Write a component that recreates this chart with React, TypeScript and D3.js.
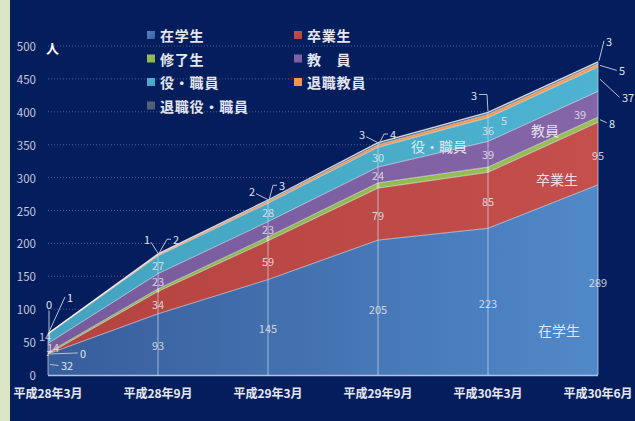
import React from 'react';
import * as d3 from 'd3';

const categories = ['平成28年3月', '平成28年9月', '平成29年3月', '平成29年9月', '平成30年3月', '平成30年6月'];
const students = [32, 93, 145, 205, 223, 289];
const graduates = [0, 34, 59, 79, 85, 95];
const completed = [2, 4, 6, 8, 8, 8];
const faculty = [14, 23, 23, 24, 39, 39];
const staff = [14, 27, 28, 30, 36, 37];
const retiredFaculty = [1, 2, 3, 4, 5, 5];
const retiredStaff = [0, 1, 2, 3, 3, 3];
const seriesNames = ['在学生', '卒業生', '修了生', '教員', '役・職員', '退職教員', '退職役・職員'];
const legendNames = ['在学生', '卒業生', '修了生', '教　員', '役・職員', '退職教員', '退職役・職員'];
const yTicks = [0, 50, 100, 150, 200, 250, 300, 350, 400, 450, 500];

const seriesValues = [students, graduates, completed, faculty, staff, retiredFaculty, retiredStaff];

const W = 635, H = 421;
const FONT = '"Noto Sans CJK JP", "Noto Sans", sans-serif';

const colorsA = ['#385d9b', '#b4433f', '#8db44c', '#785b9d', '#43a3c0', '#f0924a', '#485a70'];
const colorsB = ['#5089c9', '#c44f4c', '#97bf55', '#8466a8', '#4db3d0', '#f89c52', '#55687e'];

type Off = [number, number, string | null];
// label offsets relative to band centre: dx, dy, leader type
const labelOffsets: Off[][] = [
  [[19, 1, 'h'], [0, 1, null], [0, 1, null], [0, 1, null], [0, 1, null], [0, 2, null]],
  [[35, -1, 'h'], [0, 1, null], [0, 1, null], [0, 1, null], [0, 1, null], [0, 1, null]],
  [[0, 0, null], [0, 0, null], [0, 0, null], [0, 0, null], [0, 0, null], [14, 3, 'h']],
  [[5, -1, null], [0, 0, null], [0, 0, null], [0, 0, null], [0, 0, null], [-18, 10, null]],
  [[-3, -3, null], [0, 0, null], [0, 0, null], [0, 0, null], [0, 0, null], [30, 18, 'h']],
  [[22, -37, 'd'], [18, -16, 'e'], [14, -17, 'e'], [15, -12, 'e'], [16, 4, null], [24, 5, 'h']],
  [[1, -30, 'v'], [-11, -15, 'd'], [-16, -10, 'd'], [-16, -10, 'd'], [-14, -18, 'e2'], [11, -22, 'd']],
];

const areaLabels = [
  { text: '役・職員', cat: 3, series: 4, dx: 61, dy: -11 },
  { text: '教員', cat: 4, series: 3, dx: 57, dy: -24 },
  { text: '卒業生', cat: 4, series: 1, dx: 69, dy: -21 },
  { text: '在学生', cat: 4, series: 0, dx: 71, dy: 28 },
];

export default function App() {
  const x = d3.scalePoint<string>().domain(categories).range([48, 598]);
  const y = d3.scaleLinear().domain([0, 500]).range([375, 46]);

  const rows = categories.map((c, i) => {
    const r: any = { cat: c };
    seriesNames.forEach((s, k) => (r[s] = seriesValues[k][i]));
    return r;
  });
  const stacked = d3.stack<any>().keys(seriesNames)(rows);

  const area = d3
    .area<any>()
    .x((d) => x(d.data.cat)!)
    .y0((d) => y(d[0]))
    .y1((d) => y(d[1]));
  const topLine = d3
    .line<any>()
    .x((d) => x(d.data.cat)!)
    .y((d) => y(d[1]));

  const totals = categories.map((_, i) => seriesValues.reduce((a, s) => a + s[i], 0));

  const labels: React.ReactNode[] = [];
  stacked.forEach((layer, k) => {
    layer.forEach((d: any, i: number) => {
      const ax = x(d.data.cat)!;
      const ay = (y(d[0]) + y(d[1])) / 2;
      const [dx, dy, leader] = labelOffsets[k][i];
      const lx = ax + dx;
      const ly = ay + dy;
      const val = seriesValues[k][i];
      const txt = String(val);
      const tw = txt.length * 6.5;
      const tiny = k === 2 && !leader;
      let pts: [number, number][] | null = null;
      if (leader === 'h') pts = [[ax + 2, ay], [lx - tw / 2 - 2, ly]];
      if (leader === 'v') pts = [[lx, ly + 7], [ax + 1, ay - 2]];
      if (leader === 'd') pts = dx < 0 ? [[lx + 4, ly + 3], [ax, ay - 1]] : [[lx - 5, ly], [ax + 1, ay - 2]];
      if (leader === 'e') pts = [[lx - 5, ly], [lx - 9, ly], [ax + 1, ay - 2]];
      if (leader === 'e2') pts = [[lx + 5, ly - 1], [ax - 1, ly - 1], [ax, ay - 2]];
      labels.push(
        <g key={`l${k}-${i}`}>
          {pts && (
            <polyline
              points={pts.map((p) => p.join(',')).join(' ')}
              fill="none"
              stroke="#b9c2d6"
              strokeWidth={1}
            />
          )}
          <text
            x={lx}
            y={ly}
            textAnchor="middle"
            dominantBaseline="central"
            fontSize={tiny ? 6 : 11}
            fill={leader ? '#dfe3ee' : '#ece6ee'}
            fillOpacity={leader ? 1 : 0.85}
            fontFamily={FONT}
          >
            {txt}
          </text>
        </g>
      );
    });
  });

  return (
    <div style={{ position: 'fixed', left: 0, top: 0 }}>
      <svg width={W} height={H} style={{ display: 'block' }}>
        <defs>
          {colorsA.map((c, k) => (
            <linearGradient key={k} id={`g${k}`} x1="48" x2="598" y1="0" y2="0" gradientUnits="userSpaceOnUse">
              <stop offset="0" stopColor={c} />
              <stop offset="1" stopColor={colorsB[k]} />
            </linearGradient>
          ))}
          {colorsA.map((c, k) => (
            <linearGradient key={`s${k}`} id={`sw${k}`} x1="0" x2="1" y1="0" y2="1">
              <stop offset="0" stopColor={colorsB[k]} />
              <stop offset="1" stopColor={c} />
            </linearGradient>
          ))}
        </defs>
        <rect width={W} height={H} fill="#041d5d" />
        <rect width={10} height={H} fill="#dbe5c3" />

        {/* grid */}
        {yTicks.slice(1).map((t) => (
          <line key={t} x1={48} x2={598} y1={y(t)} y2={y(t)} stroke="#5b6c9c" strokeDasharray="1,2" strokeWidth={0.8} />
        ))}
        {yTicks.map((t) => (
          <text key={`t${t}`} x={36} y={y(t)} textAnchor="end" dominantBaseline="central" fontSize={11.5} fill="#c3cadb" fontFamily={FONT}>
            {t}
          </text>
        ))}
        <text x={46} y={y(500) + 1} dominantBaseline="central" fontSize={13} fontWeight="bold" fill="#ffffff" fontFamily={FONT}>
          人
        </text>

        {/* areas */}
        {stacked.map((layer, k) => (
          <path key={`a${k}`} d={area(layer as any)!} fill={`url(#g${k})`} />
        ))}
        {stacked.map((layer, k) => (
          <path key={`b${k}`} d={topLine(layer as any)!} fill="none" stroke="#ffffff" strokeOpacity={k === 6 ? 0.8 : 0.6} strokeWidth={k === 6 ? 1.3 : 0.9} />
        ))}

        {/* drop lines */}
        {categories.map((c, i) => (
          <line key={`dl${i}`} x1={x(c)} x2={x(c)} y1={375} y2={y(totals[i])} stroke="#d0d8e8" strokeOpacity={0.7} strokeWidth={1} />
        ))}
        <line x1={48} x2={598} y1={375.5} y2={375.5} stroke="#b5c1da" strokeWidth={1.5} />

        {categories.map((c) => (
          <text key={`x${c}`} x={x(c)} y={392} textAnchor="middle" dominantBaseline="central" fontSize={12} fontWeight="bold" fill="#e6e9f2" fontFamily={FONT}>
            {c}
          </text>
        ))}

        {labels}

        {areaLabels.map((a) => {
          const layer = stacked[a.series];
          const d: any = layer[a.cat];
          const cx = x(categories[a.cat])! + a.dx;
          const cy = (y(d[0]) + y(d[1])) / 2 + a.dy;
          return (
            <text key={a.text} x={cx} y={cy} textAnchor="middle" dominantBaseline="central" fontSize={14} fill="#f2eef6" fillOpacity={0.92} fontFamily={FONT}>
              {a.text}
            </text>
          );
        })}

        {/* legend */}
        {legendNames.map((n, k) => {
          const col = k % 2;
          const row = Math.floor(k / 2);
          const lx = col === 0 ? 147 : 294;
          const ly = 35 + row * 23.5;
          return (
            <g key={`lg${k}`}>
              <rect x={lx} y={ly - 4} width={8} height={8} fill={`url(#sw${k})`} />
              <text x={lx + 13} y={ly} dominantBaseline="central" fontSize={14} fontWeight="bold" fill="#e4e6ee" letterSpacing={0.8} fontFamily={FONT}>
                {n}
              </text>
            </g>
          );
        })}
      </svg>
    </div>
  );
}
